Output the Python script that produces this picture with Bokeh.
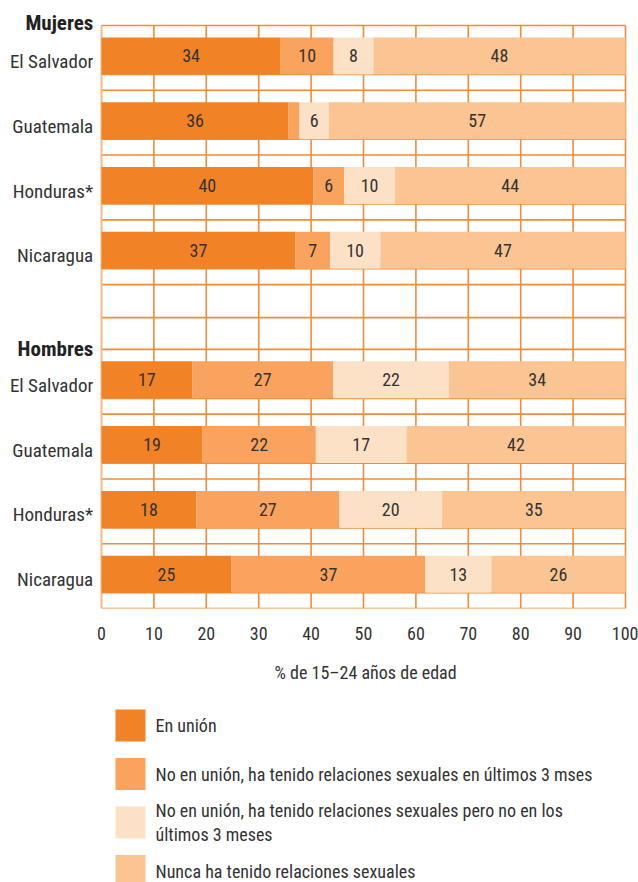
from bokeh.plotting import figure
from bokeh.layouts import column
from bokeh.models import Range1d, FixedTicker, ColumnDataSource, Title
from bokeh.core.properties import value
from bokeh.embed import file_html
from bokeh.resources import INLINE

# ---------------- data ----------------
groups = ["Mujeres", "Hombres"]
countries = ["El Salvador", "Guatemala", "Honduras*", "Nicaragua"]
series_names = [
    "En unión",
    "No en unión, ha tenido relaciones sexuales en últimos 3 mses",
    "No en unión, ha tenido relaciones sexuales pero no en los\núltimos 3 meses",
    "Nunca ha tenido relaciones sexuales",
]
# order: Mujeres ES, GU, HO, NI, Hombres ES, GU, HO, NI
en_union = [34.2, 35.7, 40.4, 37.0, 17.3, 19.3, 18.1, 24.8]
no_union_3m = [10.1, 2.1, 5.9, 6.6, 26.9, 21.6, 27.3, 37.0]
no_union_no3m = [7.6, 5.6, 9.7, 9.6, 22.1, 17.3, 19.6, 12.6]
nunca = [48.1, 56.6, 44.0, 46.8, 33.7, 41.8, 35.0, 25.6]
x_ticks = [0, 10, 20, 30, 40, 50, 60, 70, 80, 90, 100]
x_title = "% de 15–24 años de edad"

colors = ["#F28226", "#F9A35F", "#FDE1C7", "#FAC592"]
grid_color = "#F28C36"
FONT = "'Roboto Condensed', 'DejaVu Sans Condensed', sans-serif"
TXT = "#333333"

# ---------------- layout of rows ----------------
slots = [0, 1, 2, 3, 5, 6, 7, 8]      # slot 4 is the gap between groups
header_y = [-0.046, 5.0]
bar_off = 0.47
bar_h = 0.571
y_bar = [s + bar_off for s in slots]
y_lab = [s + 0.555 for s in slots]
series = [en_union, no_union_3m, no_union_no3m, nunca]
label_x = -1.58

p = figure(width=638, height=708,
           x_range=Range1d(-19.275, 102.48), y_range=Range1d(9, -0.386),
           output_backend="svg", toolbar_location=None,
           min_border_left=0, min_border_right=0, min_border_top=0,
           min_border_bottom=100, y_axis_location=None)
p.outline_line_color = None
p.grid.visible = False

# grid lines (drawn first, under the bars)
h_lines = list(range(0, 10)) + [s + 0.756 for s in slots] + [4.51]
p.segment(x0=[0] * len(h_lines), x1=[100] * len(h_lines), y0=h_lines,
          y1=h_lines, line_color=grid_color, line_width=1.6)
v_lines = x_ticks[1:]
p.segment(x0=v_lines, x1=v_lines, y0=[0] * len(v_lines), y1=[9] * len(v_lines),
          line_color=grid_color, line_width=1.6)
p.segment(x0=[0], x1=[0], y0=[0], y1=[9], line_color="#F9B987", line_width=2)

renderers = []
left = [0.0] * len(slots)
txt_x, txt_y, txt_s = [], [], []
for vals, col in zip(series, colors):
    right = [l + v for l, v in zip(left, vals)]
    src = ColumnDataSource(dict(y=y_bar, left=left, right=right))
    r = p.hbar(y="y", left="left", right="right", height=bar_h, source=src,
               fill_color=col, line_color=None)
    renderers.append(r)
    for l, v, yy in zip(left, vals, y_bar):
        if v >= 4:
            txt_x.append(l + v / 2)
            txt_y.append(yy)
            txt_s.append(str(round(v)))
    left = right

p.text(x=txt_x, y=txt_y, text=txt_s, text_align="center",
       text_baseline="middle", text_font=value(FONT), text_font_size="18px",
       text_color=TXT)

# category labels and group headers
p.text(x=[label_x] * len(y_lab), y=y_lab, text=countries * 2,
       text_align="right", text_baseline="middle", text_font=value(FONT),
       text_font_size="19px", text_color=TXT)
p.text(x=[label_x] * 2, y=header_y, text=groups, text_align="right",
       text_baseline="middle", text_font=value(FONT), text_font_size="21px",
       text_font_style="bold", text_color="#222222")

# ---------------- x axis ----------------
xa = p.xaxis[0]
xa.ticker = FixedTicker(ticks=x_ticks)
xa.axis_line_color = None
xa.major_tick_line_color = None
xa.minor_tick_line_color = None
xa.major_tick_out = 0
xa.major_tick_in = 0
xa.major_label_standoff = 18
xa.major_label_text_font = FONT
xa.major_label_text_font_size = "18px"
xa.major_label_text_color = TXT

# axis title, centred under the bar area (not under the whole frame)
p.add_layout(Title(text=x_title, align="left", offset=274, standoff=34,
                   text_font=FONT, text_font_size="18px",
                   text_font_style="normal", text_color=TXT), "below")

# ---------------- key (own panel below the chart) ----------------
lg = figure(width=638, height=174, x_range=Range1d(0, 638),
            y_range=Range1d(174, 0), output_backend="svg",
            toolbar_location=None, x_axis_location=None, y_axis_location=None,
            min_border_left=0, min_border_top=0, min_border_right=0,
            min_border_bottom=0)
lg.outline_line_color = None
lg.grid.visible = False
n = len(series_names)
key_top = [1 + 48.5 * i for i in range(n)]
key_h = 32
lg.quad(left=[115] * n, right=[145] * n, top=key_top,
        bottom=[t + key_h for t in key_top], fill_color=colors, line_color=None)
lg.text(x=[155] * n, y=[t + key_h / 2 for t in key_top], text=series_names,
        text_align="left", text_baseline="middle", text_font=value(FONT),
        text_font_size="18px", text_color=TXT, text_line_height=1.1)

open("out.html", "w").write(file_html(column(p, lg), INLINE))
